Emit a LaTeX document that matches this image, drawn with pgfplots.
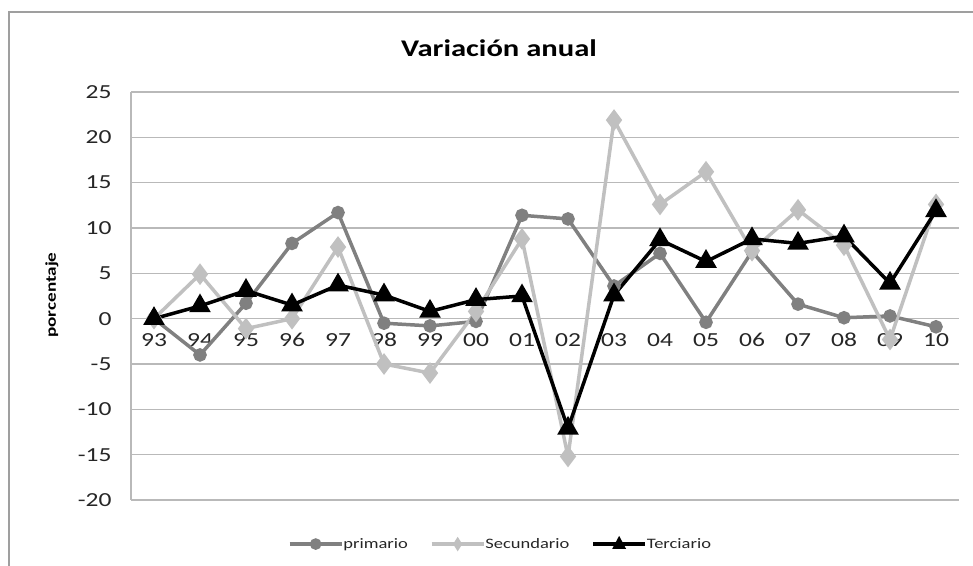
\documentclass[border=0pt]{standalone}
\usepackage{fontspec}
\setmainfont[FakeStretch=1.28]{Carlito}
\usepackage{pgfplots}
\pgfplotsset{compat=1.18}
\definecolor{prim}{RGB}{128,128,128}
\definecolor{secu}{RGB}{192,192,192}
\definecolor{gridc}{RGB}{185,185,185}

% variación anual por sector (porcentaje), 1993-2010
\pgfplotstableread{
x primario secundario terciario
0   0.0   0.0   0.0
1  -4.0   4.9   1.4
2   1.7  -1.1   3.1
3   8.3   0.0   1.5
4  11.7   7.9   3.7
5  -0.5  -5.0   2.6
6  -0.8  -6.0   0.8
7  -0.3   0.8   2.1
8  11.4   8.8   2.5
9  11.0 -15.2 -12.1
10  3.6  21.9   2.6
11  7.2  12.6   8.7
12 -0.4  16.2   6.3
13  7.4   7.5   8.8
14  1.6  12.0   8.3
15  0.1   8.1   9.1
16  0.3  -2.3   3.9
17 -0.9  12.6  11.9
}\datos

\begin{document}
\begin{tikzpicture}[x=1bp,y=1bp]
\path[use as bounding box] (0,0) rectangle (973,566);
\draw[gray!75, line width=1.3bp] (9,-2) -- (9,554) -- (975,554);

\node[font=\fontsize{24}{28}\selectfont\bfseries] at (499,518) {Variación anual};
\node[font=\fontsize{15}{18}\selectfont\bfseries, rotate=90] at (52,271) {porcentaje};

\begin{axis}[
    at={(131bp,66bp)}, anchor=south west,
    scale only axis,
    width=828bp, height=408bp,
    xmin=-0.5, xmax=17.5,
    ymin=-20, ymax=25,
    axis y line*=left,
    axis x line*=middle,
    axis line style={gridc, line width=1.3bp, -},
    ymajorgrids,
    grid style={gridc, line width=1.3bp},
    major tick length=0pt,
    xtick={0,...,17},
    xticklabels={93,94,95,96,97,98,99,00,01,02,03,04,05,06,07,08,09,10},
    ytick={-20,-15,...,25},
    yticklabels={-20,-15,-10,-5,0,5,10,15,20,25},
    tick label style={font=\fontsize{20}{24}\selectfont, text=black!85},
    xticklabel style={yshift=-11bp},
    yticklabel style={xshift=-16bp},
    clip=false,
    legend columns=3,
    legend cell align=left,
    legend style={draw=none, fill=none, at={(0.445,-0.108)}, anchor=center,
        font=\fontsize{14.5}{17}\selectfont, text=black!85,
        nodes={inner xsep=0bp},
        /tikz/every even column/.append style={column sep=22bp}},
]
\addplot[prim, line width=3.5bp, mark=*, mark size=5bp,
    legend image code/.code={
        \draw[prim, line width=3.5bp] (0bp,0bp) -- (52bp,0bp);
        \fill[prim] (26bp,0bp) circle (4bp);}]
    table[x=x, y=primario] {\datos};
\addlegendentry{primario}
\addplot[secu, line width=3.5bp, mark=diamond*, mark size=8bp,
    legend image code/.code={
        \draw[secu, line width=3.5bp] (0bp,0bp) -- (52bp,0bp);
        \fill[secu] (26bp,4bp) -- (28.5bp,0bp) -- (26bp,-4bp) -- (23.5bp,0bp) -- cycle;}]
    table[x=x, y=secundario] {\datos};
\addlegendentry{Secundario}
\addplot[black, line width=3.5bp, mark=triangle*, mark size=9bp,
    legend image code/.code={
        \draw[black, line width=3.5bp] (0bp,0bp) -- (52bp,0bp);
        \fill[black] (26bp,4.5bp) -- (30bp,-3bp) -- (22bp,-3bp) -- cycle;}]
    table[x=x, y=terciario] {\datos};
\addlegendentry{Terciario}
\end{axis}
\end{tikzpicture}
\end{document}
